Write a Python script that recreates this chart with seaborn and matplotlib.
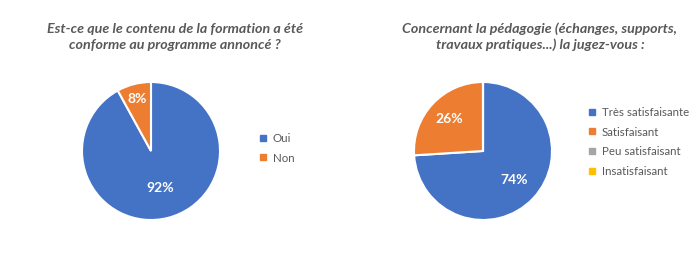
import numpy as np
import matplotlib
matplotlib.use("Agg")
import matplotlib.pyplot as plt
import seaborn as sns
from matplotlib.lines import Line2D

# ---- data ----
title1 = "Est-ce que le contenu de la formation a été\nconforme au programme annoncé ?"
labels1 = ["Oui", "Non"]
values1 = [92, 8]

title2 = "Concernant la pédagogie (échanges, supports,\ntravaux pratiques...) la jugez-vous :"
labels2 = ["Très satisfaisante", "Satisfaisant", "Peu satisfaisant", "Insatisfaisant"]
values2 = [74, 26, 0, 0]

colors = ["#4472C4", "#ED7D31", "#A5A5A5", "#FFC000"]

sns.set_theme(style="white")
plt.rcParams["font.family"] = ["Lato", "DejaVu Sans"]
TXT = "#595959"

fig = plt.figure(figsize=(7, 2.8), dpi=100)
W, H = 700, 280


def pie_axes(cx, cy, r):
    return fig.add_axes([(cx - r) / W, (H - cy - r) / H, 2 * r / W, 2 * r / H])


def draw(ax, values, labels, label_dist):
    wedges, _, autotexts = ax.pie(
        values, colors=colors[:len(values)], startangle=90, counterclock=False,
        autopct=lambda p: f"{p:.0f}%" if p >= 0.5 else "",
        wedgeprops=dict(edgecolor="white", linewidth=1.5),
        textprops=dict(color="white", fontsize=10, fontweight="bold"))
    for w, t, d in zip(wedges, autotexts, label_dist):
        ang = np.deg2rad((w.theta1 + w.theta2) / 2)
        t.set_position((d * np.cos(ang), d * np.sin(ang)))
    ax.set_xlim(-1, 1)
    ax.set_ylim(-1, 1)
    ax.set_aspect("equal")
    ax.axis("off")


ax1 = pie_axes(151, 151, 69)
draw(ax1, values1, labels1, [0.56, 0.78])
ax2 = pie_axes(483, 151, 69)
draw(ax2, values2, labels2, [0.62, 0.67, 0, 0])

fig.text(175 / W, 1 - 37 / H, title1, ha="center", va="center", fontsize=10.3,
         fontweight="bold", fontstyle="italic", color=TXT, linespacing=1.35)
fig.text(540 / W, 1 - 37 / H, title2, ha="center", va="center", fontsize=10.3,
         fontweight="bold", fontstyle="italic", color=TXT, linespacing=1.35)


def legend(labels, x, y):
    handles = [Line2D([], [], marker="s", linestyle="", markersize=5,
                      markerfacecolor=c, markeredgecolor=c) for c in colors[:len(labels)]]
    fig.legend(handles, labels, loc="upper left", bbox_to_anchor=(x / W, 1 - y / H),
               frameon=False, fontsize=8.3, labelcolor=TXT, handlelength=0.6,
               handletextpad=0.5, labelspacing=0.74, borderpad=0, borderaxespad=0)


legend(labels1, 260, 133)
legend(labels2, 589, 107)

fig.savefig("out.png", dpi=100)
